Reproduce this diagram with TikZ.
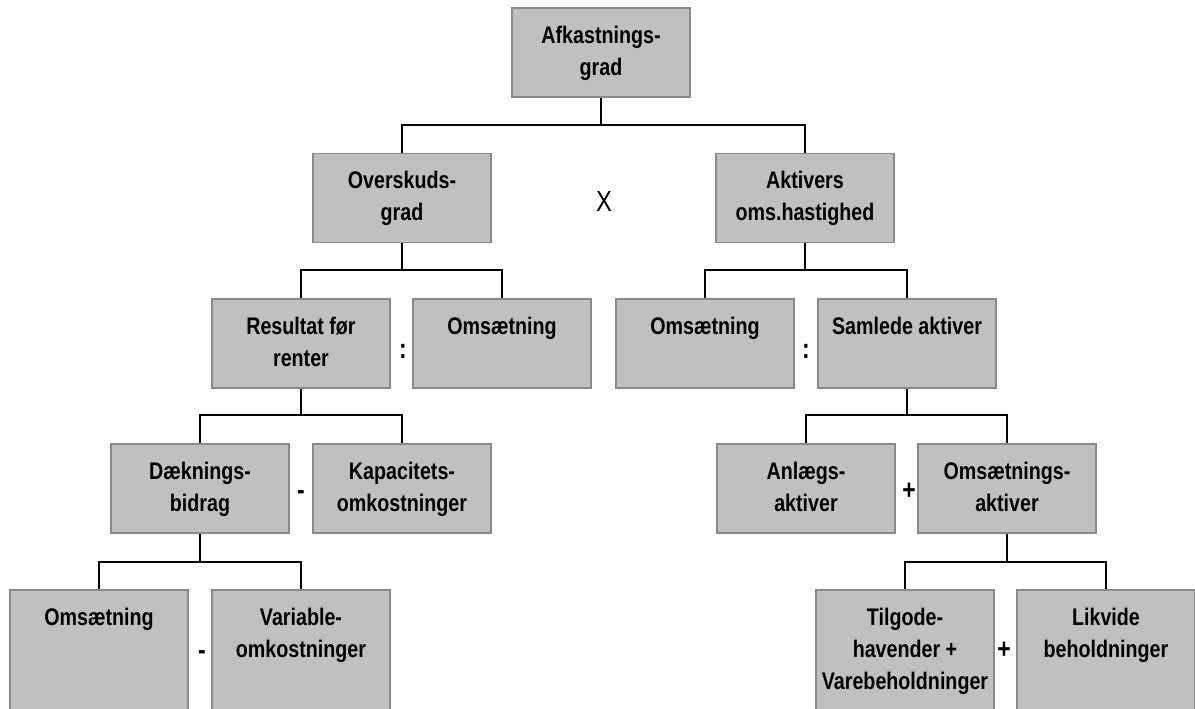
\documentclass[tikz,border=0pt]{standalone}
\usepackage{fontspec}
\newfontfamily\nar{Liberation Sans}[FakeStretch=0.82]
\definecolor{boxfill}{HTML}{C0C0C0}
\definecolor{boxline}{HTML}{8A8A8A}
\tikzset{
  box/.style={draw=boxline, fill=boxfill, line width=1.5pt, minimum width=178pt, minimum height=89pt, inner sep=0pt},
  lastbox/.style={box, minimum height=130pt},
  lbl/.style={anchor=north, inner sep=0pt, align=center, font=\nar\bfseries\fontsize{24}{32}\selectfont},
  op/.style={inner sep=0pt, font=\nar\bfseries\fontsize{28}{32}\selectfont},
  conn/.style={line width=1.6pt, black}
}
\newcommand{\bx}[5]{%
  \node[#1] (#2) at (#3,#4) {};
  \node[lbl] (#2-t) at ([yshift=-18.5pt]#2.north) {#5};
}
\begin{document}
\begin{tikzpicture}[x=1pt,y=-1pt]
\useasboundingbox (0,0) rectangle (1195,709);
\clip (0,0) rectangle (1195,709);
% row 1
\bx{box}{afk}{601}{52.5}{Afkastnings-\\grad}
% row 2
\bx{box}{ovs}{402}{198}{Overskuds-\\grad}
\bx{box}{akt}{805}{198}{Aktivers\\oms.hastighed}
% row 3
\bx{box}{res}{301}{343.5}{Resultat før\\renter}
\bx{box}{oms1}{502}{343.5}{Omsætning}
\bx{box}{oms2}{705}{343.5}{Omsætning}
\bx{box}{sam}{907}{343.5}{Samlede aktiver}
% row 4
\bx{box}{daek}{200}{488.5}{Dæknings-\\bidrag}
\bx{box}{kap}{402}{488.5}{Kapacitets-\\omkostninger}
\bx{box}{anl}{806}{488.5}{Anlægs-\\aktiver}
\bx{box}{omsa}{1007}{488.5}{Omsætnings-\\aktiver}
% row 5
\bx{lastbox}{oms3}{99}{655}{Omsætning}
\bx{lastbox}{var}{301}{655}{Variable-\\omkostninger}
\bx{lastbox}{tilg}{905}{655}{Tilgode-\\havender +\\Varebeholdninger}
\bx{lastbox}{likv}{1106}{655}{Likvide\\beholdninger}
% bar levels
\coordinate (b1) at (0,125);
\coordinate (b2) at (0,270);
\coordinate (b3) at (0,415);
\coordinate (b4) at (0,562);
% connectors
\draw[conn] (afk.south) -- (afk.south |- b1);
\draw[conn] (ovs.north) |- (b1 -| akt.north) -- (akt.north);
\draw[conn] (ovs.south) -- (ovs.south |- b2);
\draw[conn] (res.north) |- (b2 -| oms1.north) -- (oms1.north);
\draw[conn] (akt.south) -- (akt.south |- b2);
\draw[conn] (oms2.north) |- (b2 -| sam.north) -- (sam.north);
\draw[conn] (res.south) -- (res.south |- b3);
\draw[conn] (daek.north) |- (b3 -| kap.north) -- (kap.north);
\draw[conn] (sam.south) -- (sam.south |- b3);
\draw[conn] (anl.north) |- (b3 -| omsa.north) -- (omsa.north);
\draw[conn] (daek.south) -- (daek.south |- b4);
\draw[conn] (oms3.north) |- (b4 -| var.north) -- (var.north);
\draw[conn] (omsa.south) -- (omsa.south |- b4);
\draw[conn] (tilg.north) |- (b4 -| likv.north) -- (likv.north);
% operators
\node[inner sep=0pt, font=\nar\fontsize{29}{32}\selectfont] (opx) at (604,202) {X};
\node[op] (opc1) at (403,351) {:};
\node[op] (opc2) at (806,351) {:};
\node[op] (opm1) at (301,495) {-};
\node[op] (opp1) at (909,491) {+};
\node[op] (opm2) at (202,655) {-};
\node[op] (opp2) at (1004,650) {+};
\end{tikzpicture}
\end{document}
